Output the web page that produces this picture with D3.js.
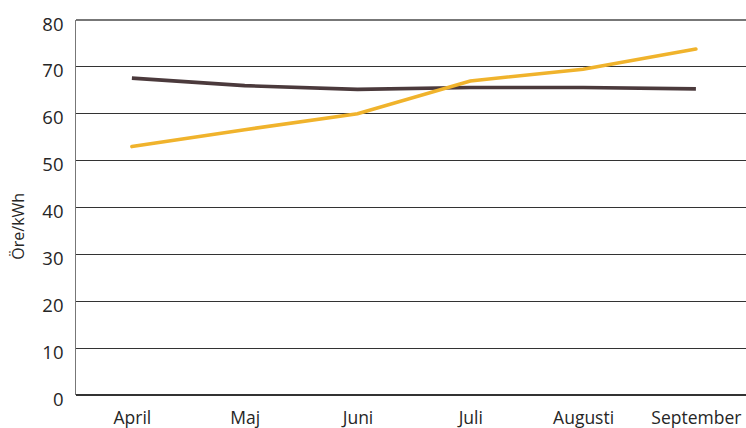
<!DOCTYPE html>
<html>
<head>
<meta charset="utf-8">
<script src="https://cdn.jsdelivr.net/npm/d3@7"></script>
<style>
  html, body { margin: 0; padding: 0; background: #fff; }
  svg { display: block; }
  text { font-family: "Open Sans", Roboto, sans-serif; fill: #262626; }
</style>
</head>
<body>
<svg id="chart" width="746" height="428"></svg>
<script>
// Monthly electricity prices, öre per kWh
const months = ["April", "Maj", "Juni", "Juli", "Augusti", "September"];
const seriesDark = [67.6, 66.0, 65.2, 65.6, 65.6, 65.3];
const seriesGold = [53.0, 56.6, 60.0, 67.0, 69.5, 73.8];
const yTicks = [0, 10, 20, 30, 40, 50, 60, 70, 80];
const yTitle = "Öre/kWh";

const svg = d3.select("#chart");
const margin = { left: 75.5, top: 20, bottom: 33 };
const plotW = 676.8;
const plotH = 428 - margin.top - margin.bottom;
const FONT = "'Open Sans', Roboto, sans-serif";

const x = d3.scalePoint().domain(months).range([0, plotW]).padding(0.5);
const y = d3.scaleLinear().domain([0, 80]).range([plotH, 0]);

const g = svg.append("g").attr("transform", `translate(${margin.left},${margin.top})`);

// horizontal gridlines
g.append("g").selectAll("line").data(yTicks).join("line")
  .attr("x1", 0).attr("x2", plotW)
  .attr("y1", d => y(d)).attr("y2", d => y(d))
  .attr("stroke", d => d === 80 ? "#777" : "#333")
  .attr("stroke-width", 1.2)
  .attr("shape-rendering", "crispEdges");

// left axis line
g.append("line")
  .attr("x1", 0).attr("x2", 0).attr("y1", y(80)).attr("y2", y(0))
  .attr("stroke", "#777").attr("stroke-width", 1.2)
  .attr("shape-rendering", "crispEdges");

// y axis labels
const yAxis = d3.axisLeft(y).tickValues(yTicks).tickSize(0).tickPadding(12);
const ya = g.append("g").call(yAxis);
ya.select(".domain").remove();
ya.selectAll("text")
  .attr("dy", 0).attr("y", 10)
  .style("font-size", "18.5px").style("fill", "#262626")
  .style("font-family", FONT);

// x axis labels
const xAxis = d3.axisBottom(x).tickSize(0);
const xa = g.append("g").attr("transform", `translate(0,${plotH})`).call(xAxis);
xa.select(".domain").remove();
xa.selectAll("text")
  .attr("dy", 0).attr("y", 29)
  .style("font-size", "17.5px").style("fill", "#262626")
  .style("font-family", FONT);

// y title
svg.append("text")
  .attr("transform", `translate(24,${margin.top + y(36)}) rotate(-90)`)
  .attr("text-anchor", "middle")
  .style("font-size", "16px")
  .text(yTitle);

// series lines
const line = d3.line().x((d, i) => x(months[i])).y(d => y(d));
g.append("path").datum(seriesDark)
  .attr("d", line).attr("fill", "none")
  .attr("stroke", "#4b3a3c").attr("stroke-width", 3.6);
g.append("path").datum(seriesGold)
  .attr("d", line).attr("fill", "none")
  .attr("stroke", "#f0b32c").attr("stroke-width", 3.6)
  .attr("stroke-linecap", "round");
</script>
</body>
</html>
